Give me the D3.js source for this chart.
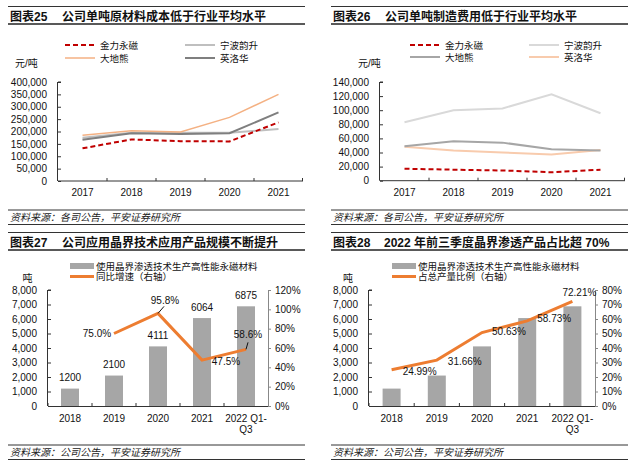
<!DOCTYPE html>
<html><head><meta charset="utf-8">
<script src="https://cdn.jsdelivr.net/npm/d3@7/dist/d3.min.js"></script>
<style>
html,body{margin:0;padding:0;background:#fff;}
text{font-family:"Liberation Sans","Noto Sans CJK SC",sans-serif;}
</style></head>
<body><svg id="c" width="640" height="466"></svg>
<script>
// ---------- data ----------
const years5 = ["2017","2018","2019","2020","2021"];
const costSeries = ["金力永磁","宁波韵升","大地熊","英洛华"];
// 图表25 单吨原材料成本 (元/吨)
const rawJinli   = [132000,168000,161000,160000,237000];
const rawNingbo  = [175000,195000,195000,195000,210000];
const rawDadi    = [185000,203000,198000,257000,350000];
const rawYingluo = [167000,193000,190000,193000,277000];
// 图表26 单吨制造费用 (元/吨)
const mfgJinli   = [17000,15600,14500,12000,15600];
const mfgNingbo  = [82800,100000,102500,122500,95600];
const mfgDadi    = [49000,56000,54000,44500,43000];
const mfgYingluo = [48000,43000,40000,37000,43500];
const rawTicks = [0,50000,100000,150000,200000,250000,300000,350000,400000];
const mfgTicks = [0,20000,40000,60000,80000,100000,120000,140000];
// 图表27 / 28
const years6 = ["2018","2019","2020","2021","2022 Q1-Q3"];
const gbdTons   = [1200,2100,4111,6064,6875];
const gbdGrowth = [null,0.75,0.958,0.475,0.586];
const gbdShare  = [0.2499,0.3166,0.5063,0.5873,0.7221];
const tonTicks = [0,1000,2000,3000,4000,5000,6000,7000,8000];
const growthTicks = [0,0.2,0.4,0.6,0.8,1.0,1.2];
const shareTicks = [0,0.1,0.2,0.3,0.4,0.5,0.6,0.7,0.8];
const growthLabels = ["","75.0%","95.8%","47.5%","58.6%"];
const shareLabels  = ["24.99%","31.66%","50.63%","58.73%","72.21%"];

const svg = d3.select("#c");
const FONT = 10;
const fmt = d3.format(",");

function frame(x0,x1,title1,title1x,title2,title2x,ty,srcTop){
  svg.append("line").attr("x1",x0).attr("x2",x1).attr("y1",ty-10.5).attr("y2",ty-10.5).attr("stroke","#333").attr("stroke-width",1);
  svg.append("line").attr("x1",x0).attr("x2",x1).attr("y1",ty+7).attr("y2",ty+7).attr("stroke","#595959").attr("stroke-width",2);
  svg.append("text").attr("x",title1x).attr("y",ty).attr("dominant-baseline","central").attr("font-size",12).attr("font-weight","bold").attr("fill","#111").text(title1);
  svg.append("text").attr("x",title2x).attr("y",ty).attr("dominant-baseline","central").attr("font-size",12).attr("font-weight","bold").attr("fill","#111").text(title2);
  svg.append("line").attr("x1",x0).attr("x2",x1).attr("y1",srcTop).attr("y2",srcTop).attr("stroke","#333").attr("stroke-width",1);
  svg.append("line").attr("x1",x0).attr("x2",x1).attr("y1",srcTop+14.5).attr("y2",srcTop+14.5).attr("stroke","#333").attr("stroke-width",1);
}

function linePanel(o){
  const x = d3.scaleBand().domain(years5).range([o.ax0,o.ax1]);
  const y = d3.scaleLinear().domain([0,o.max]).range([o.y0,o.y1]);
  const g = svg.append("g");
  // y axis
  const ya = g.append("g").attr("transform",`translate(${o.ax0},0)`)
    .call(d3.axisLeft(y).tickValues(o.ticks).tickFormat(fmt).tickSize(-3).tickPadding(11));
  ya.selectAll("path,line").attr("stroke","#333");
  ya.select(".domain").attr("d",`M${-0.5},${o.y0}V${o.y1}M0,${o.y1}h3`);
  ya.selectAll("text").attr("font-size",FONT).attr("fill","#111").attr("font-family",null);
  // x axis
  const xa = g.append("g").attr("transform",`translate(0,${o.y0})`)
    .call(d3.axisBottom(x).tickSize(0).tickPadding(8));
  xa.select(".domain").attr("stroke","#333").attr("d",`M${o.ax0},0H${o.ax1}`);
  xa.selectAll("text").attr("font-size",FONT).attr("fill","#111").attr("font-family",null);
  years5.slice(1).forEach(yr=>{
    g.append("line").attr("x1",x(yr)).attr("x2",x(yr)).attr("y1",o.y0).attr("y2",o.y0-3).attr("stroke","#333");
  });
  g.append("line").attr("x1",o.ax1-0.5).attr("x2",o.ax1-0.5).attr("y1",o.y0).attr("y2",o.y0-3).attr("stroke","#333");
  // unit
  g.append("text").attr("x",o.unitX).attr("y",63).attr("dominant-baseline","central").attr("font-size",FONT).attr("fill","#111").text("元/吨");
  const line = d3.line().x((d,i)=>x(years5[i])+x.bandwidth()/2).y(d=>y(d));
  // draw order: back to front
  o.order.forEach(k=>{
    const s = o.series[k];
    g.append("path").attr("d",line(s.v)).attr("fill","none").attr("stroke",s.c).attr("stroke-width",s.w)
      .attr("stroke-dasharray",s.dash||null);
  });
  // legend
  o.series.forEach((s,i)=>{
    const col = i%2, row = Math.floor(i/2);
    const lx = o.legX[col], ly = o.legY[row];
    g.append("line").attr("x1",lx).attr("x2",lx+30).attr("y1",ly).attr("y2",ly).attr("stroke",s.c).attr("stroke-width",s.w).attr("stroke-dasharray",s.dash||null);
    g.append("text").attr("x",lx+35).attr("y",ly).attr("dominant-baseline","central").attr("font-size",9.5).attr("fill","#111").text(costSeries[i]);
  });
}

function barPanel(o){
  const x = d3.scaleBand().domain(years6).range([o.ax0,o.ax1]);
  const y = d3.scaleLinear().domain([0,8000]).range([406,290]);
  const y2 = d3.scaleLinear().domain([0,o.rmax]).range([406,290]);
  const g = svg.append("g");
  const ya = g.append("g").attr("transform",`translate(${o.ax0},0)`)
    .call(d3.axisLeft(y).tickValues(tonTicks).tickFormat(fmt).tickSize(-3).tickPadding(11));
  ya.selectAll("path,line").attr("stroke","#333");
  ya.select(".domain").attr("d",`M${-0.5},406V290M0,290h3`);
  ya.selectAll("text").attr("font-size",FONT).attr("fill","#111").attr("font-family",null);
  const yb = g.append("g").attr("transform",`translate(${o.ax1},0)`)
    .call(d3.axisRight(y2).tickValues(o.rticks).tickFormat(d3.format(".0%")).tickSize(3).tickPadding(4));
  yb.selectAll("path,line").attr("stroke","#888");
  yb.select(".domain").attr("d",`M0.5,406V290`);
  yb.selectAll("text").attr("font-size",FONT).attr("fill","#111").attr("font-family",null);
  // bars
  const bw = 18;
  g.selectAll("rect.b").data(o.bars).enter().append("rect")
    .attr("x",(d,i)=>x(years6[i])+x.bandwidth()/2-bw/2).attr("width",bw)
    .attr("y",d=>y(d)).attr("height",d=>406-y(d)).attr("fill","#A6A6A6");
  if(o.barLabels){
    g.selectAll("text.bl").data(o.bars).enter().append("text")
      .attr("x",(d,i)=>x(years6[i])+x.bandwidth()/2).attr("y",d=>y(d)-11)
      .attr("text-anchor","middle").attr("dominant-baseline","central").attr("font-size",FONT).attr("fill","#111").text(d=>d);
  }
  // x axis
  const xa = g.append("g").attr("transform",`translate(0,406)`);
  xa.append("line").attr("x1",o.ax0).attr("x2",o.ax1).attr("y1",0.5).attr("y2",0.5).attr("stroke","#333");
  years6.forEach((yr,i)=>{
    const cx = x(yr)+x.bandwidth()/2;
    const parts = yr==="2022 Q1-Q3" ? ["2022 Q1-","Q3"] : [yr];
    parts.forEach((p,j)=>{
      xa.append("text").attr("x",cx).attr("y",12+j*11.5).attr("text-anchor","middle").attr("dominant-baseline","central").attr("font-size",FONT).attr("fill","#111").text(p);
    });
    xa.append("line").attr("x1",x(yr)).attr("x2",x(yr)).attr("y1",0).attr("y2",-3).attr("stroke","#333");
  });
  // line
  const pts = o.line.map((v,i)=>v==null?null:[x(years6[i])+x.bandwidth()/2,y2(v)]).filter(d=>d);
  g.append("path").attr("d",d3.line()(pts)).attr("fill","none").attr("stroke","#ED7D31").attr("stroke-width",3);
  // line labels
  o.line.forEach((v,i)=>{
    if(v==null) return;
    const px = x(years6[i])+x.bandwidth()/2, py = y2(v);
    const p = o.pos[i];
    if(p.lead){
      g.append("line").attr("x1",px).attr("y1",py).attr("x2",px+p.lead[0]).attr("y2",py+p.lead[1]).attr("stroke","#111").attr("stroke-width",1);
    }
    g.append("text").attr("x",px+p.dx).attr("y",py+p.dy).attr("text-anchor","middle").attr("dominant-baseline","central")
      .attr("font-size",FONT).attr("fill","#111").text(o.labels[i]);
  });
  // unit
  g.append("text").attr("x",o.unitX).attr("y",278).attr("text-anchor","middle").attr("dominant-baseline","central").attr("font-size",FONT).attr("fill","#111").text("吨");
  // legend
  g.append("rect").attr("x",o.legX).attr("y",263).attr("width",24).attr("height",6).attr("fill","#A6A6A6");
  g.append("text").attr("x",o.legX+26).attr("y",266).attr("dominant-baseline","central").attr("font-size",9.5).attr("fill","#111").text("使用晶界渗透技术生产高性能永磁材料");
  g.append("line").attr("x1",o.legX).attr("x2",o.legX+24).attr("y1",276.5).attr("y2",276.5).attr("stroke","#ED7D31").attr("stroke-width",3);
  g.append("text").attr("x",o.legX+26).attr("y",276.5).attr("dominant-baseline","central").attr("font-size",9.5).attr("fill","#111").text(o.lineName);
}

function source(x,y){
  svg.append("text").attr("x",x).attr("y",y).attr("dominant-baseline","central").attr("font-size",10).attr("font-style","italic").attr("fill","#222").text(arguments[2]);
}

// frames
frame(8,305,"图表25",10,"公司单吨原材料成本低于行业平均水平",62,17,210);
frame(331,628,"图表26",333,"公司单吨制造费用低于行业平均水平",385,17,210);
frame(8,305,"图表27",10,"公司应用晶界技术应用产品规模不断提升",62,243,445);
frame(331,628,"图表28",333,"2022 年前三季度晶界渗透产品占比超 70%",384,243,445);
source(10,217.5,"资料来源：各司公告，平安证券研究所");
source(333,217.5,"资料来源：各司公告，平安证券研究所");
source(10,452.5,"资料来源：公司公告，平安证券研究所");
source(333,452.5,"资料来源：公司公告，平安证券研究所");

linePanel({ax0:58,ax1:303,y0:181,y1:82,max:400000,ticks:rawTicks,unitX:15,
  legX:[65,185],legY:[45,58],
  series:[
    {v:rawJinli,c:"#C00000",w:2,dash:"5,3"},
    {v:rawNingbo,c:"#BFBFBF",w:2},
    {v:rawDadi,c:"#F4B183",w:1.5},
    {v:rawYingluo,c:"#7F7F7F",w:2}
  ],order:[1,3,2,0]});
linePanel({ax0:380,ax1:625,y0:180.7,y1:82,max:140000,ticks:mfgTicks,unitX:358,
  legX:[410,529],legY:[45,57],
  series:[
    {v:mfgJinli,c:"#C00000",w:2,dash:"5,3"},
    {v:mfgNingbo,c:"#D9D9D9",w:2},
    {v:mfgDadi,c:"#A6A6A6",w:2},
    {v:mfgYingluo,c:"#F8CBAD",w:2}
  ],order:[1,3,2,0]});

barPanel({ax0:48,ax1:268,rmax:1.2,rticks:growthTicks,bars:gbdTons,barLabels:true,
  line:gbdGrowth,labels:growthLabels,unitX:27.5,legX:70,lineName:"同比增速（右轴）",
  pos:[null,{dx:-17,dy:0},{dx:7,dy:-13,lead:[6,-7]},{dx:24,dy:1},{dx:2,dy:-15,lead:[2,-7]}]});
barPanel({ax0:369,ax1:595,rmax:0.8,rticks:shareTicks,bars:gbdTons,barLabels:false,
  line:gbdShare,labels:shareLabels,unitX:348,legX:392,lineName:"占总产量比例（右轴）",
  pos:[{dx:28,dy:2},{dx:28,dy:1},{dx:27,dy:-1},{dx:27,dy:-2},{dx:7,dy:-9}]});
</script></body></html>
